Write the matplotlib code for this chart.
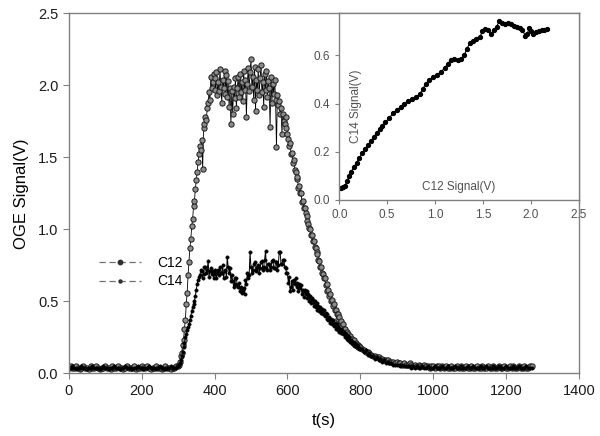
import numpy as np
import matplotlib
matplotlib.use("Agg")
import matplotlib.pyplot as plt
from matplotlib.lines import Line2D

plt.rcParams['font.family'] = ['Liberation Sans', 'DejaVu Sans']

# sampling: 5 s outside the pulse, 2.5 s during the pulse
t = np.concatenate([np.arange(0, 300, 5), np.arange(300, 800, 2.5),
                    np.arange(800, 1275, 5)])

c12 = [
    # 0 - 295 (5 s)
    0.04, 0.05, 0.04, 0.04, 0.05, 0.04, 0.03, 0.04, 0.05, 0.04,
    0.04, 0.03, 0.05, 0.04, 0.04, 0.05, 0.04, 0.03, 0.04, 0.04,
    0.05, 0.04, 0.04, 0.03, 0.05, 0.04, 0.04, 0.05, 0.04, 0.04,
    0.03, 0.04, 0.05, 0.04, 0.04, 0.04, 0.05, 0.03, 0.04, 0.04,
    0.05, 0.04, 0.04, 0.05, 0.04, 0.03, 0.04, 0.04, 0.05, 0.04,
    0.04, 0.03, 0.04, 0.05, 0.04, 0.04, 0.03, 0.04, 0.04, 0.05,
    # 300 - 797.5 (2.5 s)
    0.05, 0.06, 0.08, 0.12, 0.14, 0.20, 0.23, 0.31, 0.37, 0.48,
    0.56, 0.68, 0.77, 0.87, 0.93, 1.02, 1.07, 1.16, 1.20, 1.28,
    1.34, 1.40, 1.47, 1.52, 1.58, 1.55, 1.62, 1.42, 1.70, 1.73,
    1.78, 1.76, 1.84, 1.88, 1.95, 1.90, 2.06, 1.98, 2.02, 2.08,
    2.05, 1.97, 2.09, 1.93, 2.02, 1.96, 2.11, 1.99, 1.88, 2.04,
    1.98, 2.10, 1.94, 2.07, 1.92, 2.03, 1.85, 1.98, 1.73, 1.96,
    1.80, 1.99, 1.91, 2.05, 1.84, 1.98, 2.06, 1.92, 2.08, 1.95,
    2.02, 1.89, 2.10, 1.97, 2.04, 1.78, 2.01, 2.12, 1.96, 2.09,
    2.18, 1.99, 2.06, 1.90, 2.13, 1.82, 2.04, 1.97, 2.11, 1.93,
    2.05, 2.14, 1.95, 2.02, 1.85, 2.08, 1.97, 2.10, 1.92, 2.03,
    1.98, 1.71, 2.06, 1.88, 2.01, 1.94, 2.04, 1.90, 1.57, 1.93,
    1.86, 1.89, 1.80, 1.84, 1.66, 1.80, 1.75, 1.73, 1.78, 1.70,
    1.66, 1.63, 1.58, 1.60, 1.52, 1.53, 1.46, 1.48, 1.41, 1.40,
    1.35, 1.36, 1.29, 1.30, 1.25, 1.25, 1.19, 1.20, 1.15, 1.15,
    1.11, 1.09, 1.06, 1.04, 1.01, 1.00, 0.96, 0.96, 0.92, 0.92,
    0.88, 0.87, 0.84, 0.83, 0.79, 0.78, 0.74, 0.74, 0.70, 0.69,
    0.66, 0.66, 0.61, 0.62, 0.57, 0.58, 0.54, 0.55, 0.50, 0.51,
    0.47, 0.48, 0.44, 0.44, 0.41, 0.41, 0.38, 0.39, 0.35, 0.36,
    0.33, 0.34, 0.31, 0.31, 0.28, 0.29, 0.26, 0.27, 0.24, 0.26,
    0.23, 0.24, 0.21, 0.23, 0.20, 0.21, 0.19, 0.20, 0.18, 0.19,
    # 800 - 1270 (5 s)
    0.18, 0.17, 0.16, 0.15, 0.15, 0.14, 0.13, 0.12, 0.12, 0.11,
    0.11, 0.10, 0.10, 0.09, 0.09, 0.09, 0.08, 0.08, 0.08, 0.07,
    0.08, 0.07, 0.07, 0.06, 0.07, 0.06, 0.06, 0.07, 0.06, 0.05,
    0.06, 0.05, 0.06, 0.05, 0.05, 0.06, 0.05, 0.05, 0.04, 0.05,
    0.05, 0.04, 0.05, 0.05, 0.04, 0.05, 0.04, 0.05, 0.04, 0.04,
    0.05, 0.04, 0.04, 0.05, 0.04, 0.05, 0.04, 0.04, 0.05, 0.04,
    0.04, 0.05, 0.04, 0.04, 0.05, 0.04, 0.04, 0.05, 0.04, 0.04,
    0.05, 0.04, 0.04, 0.05, 0.04, 0.04, 0.05, 0.04, 0.04, 0.05,
    0.04, 0.04, 0.05, 0.04, 0.05, 0.04, 0.04, 0.05, 0.04, 0.04,
    0.05, 0.04, 0.04, 0.05, 0.05,
]

c14 = [
    # 0 - 295 (5 s)
    0.04, 0.04, 0.05, 0.04, 0.03, 0.04, 0.04, 0.05, 0.04, 0.04,
    0.03, 0.04, 0.04, 0.05, 0.04, 0.04, 0.04, 0.03, 0.04, 0.05,
    0.04, 0.04, 0.03, 0.04, 0.04, 0.05, 0.04, 0.04, 0.03, 0.04,
    0.04, 0.05, 0.04, 0.04, 0.04, 0.03, 0.04, 0.04, 0.05, 0.04,
    0.04, 0.03, 0.04, 0.04, 0.05, 0.04, 0.04, 0.04, 0.03, 0.04,
    0.05, 0.04, 0.04, 0.03, 0.04, 0.04, 0.05, 0.04, 0.04, 0.04,
    # 300 - 797.5 (2.5 s)
    0.05, 0.06, 0.07, 0.09, 0.12, 0.15, 0.18, 0.21, 0.25, 0.27,
    0.30, 0.32, 0.34, 0.37, 0.40, 0.43, 0.46, 0.48, 0.50, 0.54,
    0.58, 0.62, 0.65, 0.67, 0.68, 0.72, 0.71, 0.66, 0.69, 0.74,
    0.74, 0.70, 0.72, 0.78, 0.67, 0.71, 0.73, 0.69, 0.71, 0.66,
    0.69, 0.72, 0.66, 0.70, 0.72, 0.68, 0.74, 0.70, 0.70, 0.75,
    0.66, 0.71, 0.72, 0.67, 0.81, 0.74, 0.70, 0.73, 0.64, 0.68,
    0.64, 0.60, 0.62, 0.66, 0.66, 0.61, 0.60, 0.63, 0.57, 0.60,
    0.56, 0.58, 0.59, 0.55, 0.65, 0.62, 0.70, 0.66, 0.68, 0.84,
    0.74, 0.70, 0.72, 0.76, 0.77, 0.72, 0.71, 0.74, 0.75, 0.70,
    0.73, 0.77, 0.78, 0.72, 0.74, 0.79, 0.85, 0.73, 0.72, 0.76,
    0.76, 0.72, 0.74, 0.78, 0.79, 0.73, 0.73, 0.77, 0.77, 0.72,
    0.75, 0.84, 0.84, 0.76, 0.76, 0.79, 0.79, 0.74, 0.73, 0.70,
    0.70, 0.63, 0.67, 0.57, 0.60, 0.64, 0.58, 0.65, 0.62, 0.66,
    0.60, 0.63, 0.57, 0.62, 0.59, 0.61, 0.55, 0.58, 0.53, 0.58,
    0.55, 0.57, 0.52, 0.55, 0.50, 0.54, 0.49, 0.52, 0.51, 0.47,
    0.50, 0.46, 0.49, 0.44, 0.47, 0.43, 0.46, 0.42, 0.45, 0.41,
    0.44, 0.40, 0.42, 0.38, 0.41, 0.37, 0.39, 0.35, 0.38, 0.34,
    0.37, 0.33, 0.35, 0.31, 0.34, 0.30, 0.32, 0.29, 0.31, 0.28,
    0.30, 0.27, 0.29, 0.25, 0.27, 0.24, 0.26, 0.23, 0.25, 0.22,
    0.23, 0.21, 0.22, 0.20, 0.21, 0.19, 0.20, 0.18, 0.19, 0.17,
    # 800 - 1270 (5 s)
    0.17, 0.17, 0.15, 0.16, 0.13, 0.14, 0.12, 0.12, 0.10, 0.11,
    0.09, 0.10, 0.08, 0.09, 0.07, 0.08, 0.07, 0.07, 0.06, 0.06,
    0.06, 0.06, 0.05, 0.06, 0.05, 0.05, 0.05, 0.05, 0.04, 0.05,
    0.04, 0.05, 0.04, 0.04, 0.05, 0.04, 0.04, 0.05, 0.04, 0.04,
    0.04, 0.05, 0.04, 0.04, 0.04, 0.05, 0.04, 0.04, 0.05, 0.04,
    0.04, 0.04, 0.05, 0.04, 0.04, 0.05, 0.04, 0.04, 0.04, 0.05,
    0.04, 0.04, 0.05, 0.04, 0.04, 0.04, 0.05, 0.04, 0.04, 0.05,
    0.04, 0.04, 0.04, 0.05, 0.04, 0.04, 0.05, 0.04, 0.04, 0.04,
    0.05, 0.04, 0.04, 0.04, 0.05, 0.04, 0.04, 0.05, 0.04, 0.04,
    0.04, 0.05, 0.04, 0.04, 0.04,
]

# inset: C14 signal vs C12 signal
inset_x = [0.00, 0.02, 0.04, 0.06, 0.08, 0.10, 0.12, 0.15, 0.18, 0.21,
           0.24, 0.27, 0.30, 0.33, 0.36, 0.39, 0.42, 0.45, 0.48, 0.52,
           0.56, 0.60, 0.64, 0.68, 0.72, 0.76, 0.80, 0.84, 0.87, 0.90,
           0.94, 0.98, 1.02, 1.06, 1.10, 1.13, 1.16, 1.20, 1.24, 1.27,
           1.30, 1.33, 1.36, 1.39, 1.43, 1.47, 1.49, 1.52, 1.55, 1.58,
           1.61, 1.64, 1.67, 1.70, 1.73, 1.76, 1.79, 1.82, 1.85, 1.88,
           1.91, 1.94, 1.96, 1.98, 2.00, 2.02, 2.05, 2.08, 2.11, 2.14,
           2.17]
inset_y = [0.048, 0.050, 0.052, 0.060, 0.078, 0.098, 0.115, 0.135, 0.155, 0.175,
           0.195, 0.212, 0.228, 0.245, 0.262, 0.278, 0.295, 0.308, 0.322, 0.340,
           0.360, 0.374, 0.386, 0.400, 0.410, 0.418, 0.428, 0.440, 0.460, 0.482,
           0.498, 0.510, 0.520, 0.532, 0.548, 0.566, 0.580, 0.585, 0.582, 0.586,
           0.600, 0.625, 0.652, 0.660, 0.668, 0.678, 0.700, 0.710, 0.705, 0.688,
           0.705, 0.720, 0.742, 0.735, 0.732, 0.735, 0.730, 0.724, 0.718, 0.712,
           0.705, 0.682, 0.690, 0.712, 0.700, 0.690, 0.698, 0.702, 0.706, 0.704,
           0.708]

fig = plt.figure(figsize=(6.0, 4.36), dpi=100)
ax = fig.add_axes([0.1145, 0.1438, 0.8505, 0.8257])

ax.plot(t, c12, color='black', lw=0.6, marker='o', ms=3.8, mfc='#8c8c8c',
        mec='#1a1a1a', mew=0.7)
ax.plot(t, c14, color='black', lw=0.7, marker='o', ms=2.4, mfc='black',
        mec='black', mew=0.4)

ax.set_xlim(0, 1400)
ax.set_ylim(0, 2.5)
ax.set_xticks(np.arange(0, 1401, 200))
ax.set_yticks(np.arange(0, 2.51, 0.5))
ax.set_yticklabels(['0.0', '0.5', '1.0', '1.5', '2.0', '2.5'])
ax.tick_params(direction='out', length=4, width=0.8, color='#808080',
               labelsize=10.5, labelcolor='#1a1a1a')
for s in ax.spines.values():
    s.set_color('#808080')
    s.set_linewidth(1.0)
ax.set_xlabel('t(s)', fontsize=12, labelpad=11)
ax.set_ylabel('OGE Signal(V)', fontsize=12, labelpad=6)

handles = [
    Line2D([], [], color='#707070', ls=(0, (5, 3)), lw=0.9, marker='o',
           ms=3.2, mfc='#303030', mec='#303030'),
    Line2D([], [], color='#707070', ls=(0, (5, 3)), lw=0.9, marker='o',
           ms=2.2, mfc='#303030', mec='#303030'),
]
ax.legend(handles, ['C12', 'C14'], loc='upper left',
          bbox_to_anchor=(0.035, 0.36), frameon=False, fontsize=10,
          handlelength=3.0, handletextpad=1.2, labelspacing=0.3)

# inset
axi = fig.add_axes([0.5655, 0.5413, 0.3995, 0.4282])
axi.plot(inset_x, inset_y, color='black', lw=0.8, marker='o', ms=2.8,
         mfc='black', mec='black')
axi.set_xlim(0, 2.5)
axi.set_ylim(0, 0.775)
axi.set_xticks(np.arange(0, 2.51, 0.5))
axi.set_yticks([0.0, 0.2, 0.4, 0.6])
axi.set_yticklabels(['0.0', '0.2', '0.4', '0.6'])
axi.tick_params(direction='out', length=3, width=0.8, color='#808080',
                labelsize=8.5, labelcolor='#505050')
for s in axi.spines.values():
    s.set_color('#808080')
    s.set_linewidth(1.0)
axi.text(0.07, 0.5, 'C14 Signal(V)', transform=axi.transAxes, rotation=90,
         ha='center', va='center', fontsize=8.5, color='#505050')
axi.text(0.5, 0.035, 'C12 Signal(V)', transform=axi.transAxes,
         ha='center', va='bottom', fontsize=8.5, color='#505050')

fig.savefig('out.png', dpi=100)
